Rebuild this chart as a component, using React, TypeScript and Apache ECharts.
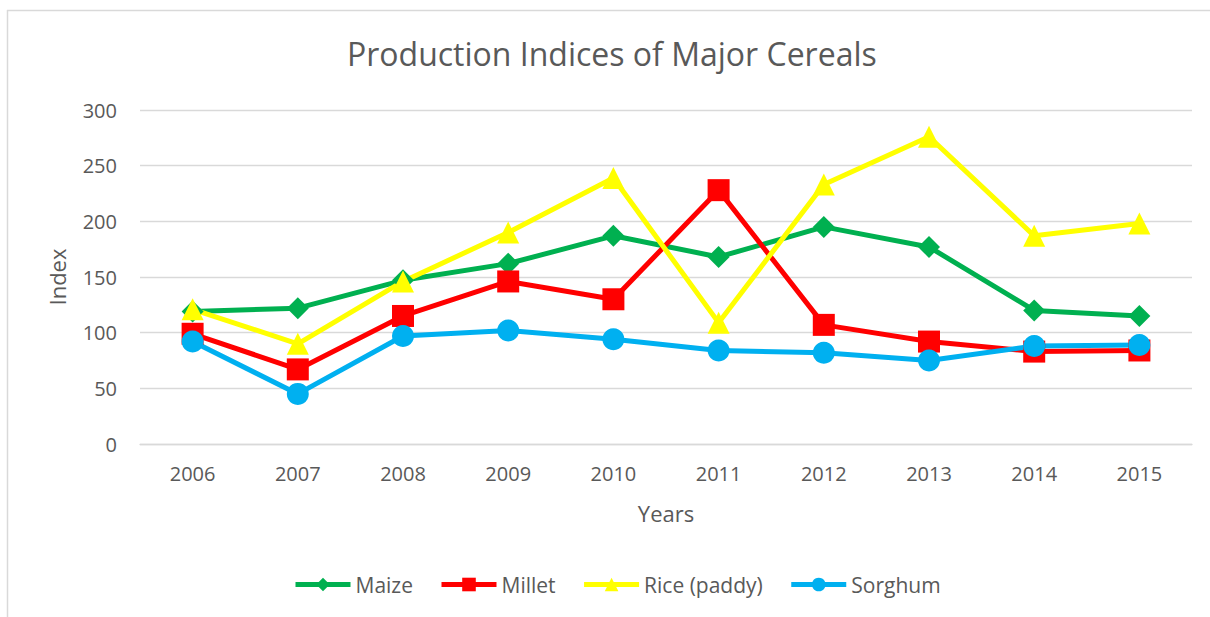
import React, { useEffect, useRef } from "react";
import * as echarts from "echarts";

const years = ["2006", "2007", "2008", "2009", "2010", "2011", "2012", "2013", "2014", "2015"];
const maize = [119, 122, 147, 162, 187, 168, 195, 177, 120, 115];
const millet = [99, 67, 115, 146, 130, 228, 107, 92, 83, 84];
const rice = [121, 90, 146, 190, 239, 109, 233, 276, 187, 198];
const sorghum = [92, 45, 97, 102, 94, 84, 82, 75, 88, 89];

const FONT = "Open Sans";
const TEXT = "#595959";
const GRID = "#d9d9d9";

export default function App() {
  const ref = useRef<HTMLDivElement>(null);
  useEffect(() => {
    if (!ref.current) return;
    const chart = echarts.init(ref.current, undefined, { renderer: "svg" });
    const mk = (name: string, data: number[], color: string, symbol: string, size: number) => ({
      name,
      type: "line",
      data,
      symbol,
      symbolSize: size,
      lineStyle: { color, width: 5 },
      itemStyle: { color, borderWidth: 0 },
    });
    chart.setOption({
      animation: false,
      backgroundColor: "#ffffff",
      textStyle: { fontFamily: FONT },
      title: {
        text: "Production Indices of Major Cereals",
        left: 347,
        top: 37,
        padding: 0,
        textStyle: { fontSize: 32, fontWeight: "normal", color: TEXT, fontFamily: FONT },
      },
      graphic: [
        { type: "line", shape: { x1: 7, y1: 10.5, x2: 1210, y2: 10.5 }, style: { stroke: GRID, lineWidth: 1.5 } },
        { type: "line", shape: { x1: 7.5, y1: 10, x2: 7.5, y2: 617 }, style: { stroke: GRID, lineWidth: 1.5 } },
      ],
      legend: {
        left: 293,
        top: 574,
        padding: 0,
        itemWidth: 55,
        itemHeight: 17,
        itemGap: 26,
        lineStyle: { width: 5 },
        textStyle: { fontSize: 21, color: TEXT, fontFamily: FONT },
        data: ["Maize", "Millet", "Rice (paddy)", "Sorghum"],
      },
      grid: { left: 140, right: 18, top: 110, bottom: 173, containLabel: false },
      xAxis: {
        type: "category",
        data: years,
        boundaryGap: true,
        name: "Years",
        nameLocation: "middle",
        nameGap: 58,
        nameTextStyle: { fontSize: 22, color: TEXT, fontFamily: FONT },
        axisLine: { show: true, lineStyle: { color: GRID, width: 1.3 } },
        axisTick: { show: false },
        axisLabel: { fontSize: 20, color: TEXT, margin: 19, fontFamily: FONT },
      },
      yAxis: {
        type: "value",
        min: 0,
        max: 300,
        interval: 50,
        name: "Index",
        nameLocation: "middle",
        nameGap: 72,
        nameTextStyle: { fontSize: 22, color: TEXT, fontFamily: FONT },
        axisLine: { show: false },
        axisTick: { show: false },
        axisLabel: { fontSize: 20, color: TEXT, margin: 23, fontFamily: FONT },
        splitLine: { lineStyle: { color: GRID, width: 1.3 } },
      },
      series: [
        mk("Maize", maize, "#00b050", "diamond", 22),
        mk("Millet", millet, "#ff0000", "rect", 22),
        mk("Rice (paddy)", rice, "#ffff00", "triangle", 22),
        mk("Sorghum", sorghum, "#00b0f0", "circle", 22),
      ],
    });
    return () => chart.dispose();
  }, []);
  return (
    <div
      ref={ref}
      style={{ position: "fixed", left: 0, top: 0, width: 1210, height: 617 }}
    />
  );
}
